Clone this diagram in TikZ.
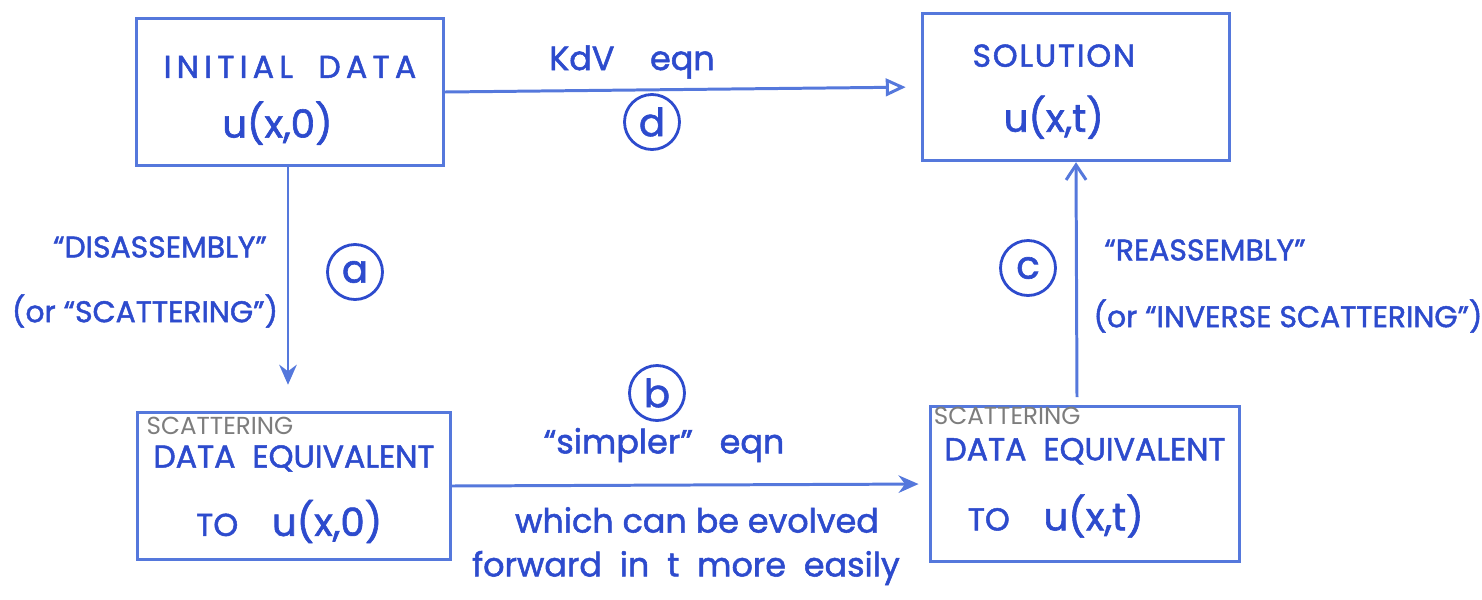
\documentclass[tikz,border=0pt]{standalone}
\usepackage{fontspec}
\usepackage{xcolor}
\usepackage{tikz}
\usetikzlibrary{arrows.meta,positioning,calc}
\newfontfamily\handfont[Ligatures=TeX,BoldFont=*,BoldFeatures={FakeBold=1.6}]{Poppins}
\newfontfamily\pencilfont[Ligatures=TeX]{Poppins}
\definecolor{ink}{RGB}{45,75,205}
\definecolor{penline}{RGB}{85,120,220}
\definecolor{pencil}{RGB}{125,125,125}
\newcommand{\tallstrut}[1]{\rule{0pt}{#1}}

\begin{document}
\begin{tikzpicture}[x=0.02cm,y=-0.02cm,
  box/.style={rectangle,draw=penline,line width=1.7pt,align=center,minimum width=6.15cm,minimum height=2.95cm,text=ink,font=\handfont\bfseries\fontsize{18}{22}\selectfont},
  pen/.style={text=pencil,font=\pencilfont\fontsize{14}{16}\selectfont,anchor=north west,inner sep=0pt},
  caps/.style={text=ink,font=\handfont\bfseries\fontsize{17}{20}\selectfont},
  lbl/.style={text=ink,font=\handfont\bfseries\fontsize{19}{23}\selectfont},
  circ/.style={circle,draw=ink,line width=1.6pt,minimum size=1.1cm,inner sep=0pt,text=ink,font=\handfont\bfseries\fontsize{22}{26}\selectfont},
  edge/.style={draw=penline,line width=1.7pt}]
\useasboundingbox (0,0) rectangle (1482,599);
% boxes
\node[box] (init) at (290,92) {\tallstrut{22pt}I\,N\,I\,T\,I\,A\,L\ \ \ D\,A\,T\,A\\[12pt]{\fontsize{22}{26}\selectfont u(x,0)\kern0.65em}};
\node[box] (sol) at (1076,87) {\tallstrut{18pt}S\kern1ptO\kern1ptL\kern1ptU\kern1ptT\kern1ptI\kern1ptO\kern1ptN\kern1.4em\\[15pt]{\fontsize{22}{26}\selectfont u(x,t)\kern1.15em}};
\node[box,minimum width=6.25cm] (scat0) at (294,486) {\tallstrut{22pt}DATA\ \ EQUIVALENT\\[15pt]TO\ \ \ \ {\fontsize{22}{26}\selectfont u(x,0)}\kern0.3em};
\node[box,minimum width=6.2cm,minimum height=3.1cm] (scatT) at (1085,484) {\tallstrut{17pt}DATA\ \ EQUIVALENT\\[16pt]TO\ \ \ \ {\fontsize{22}{26}\selectfont u(x,t)}\kern1.85em};
\node[pen] (pen0) at ($(scat0.north west)+(10,6)$) {SCATTERING};
\node[pen] (penT) at ($(scatT.north west)+(5,2)$) {SCATTERING};
% arrows
\draw[edge,-{Stealth[length=4mm,width=3.5mm]}] ($(init.south)+(-2,0)$) -- ($(scat0.north)+(-6,-26)$);
\draw[edge,-{Triangle[open,length=4mm,width=3.5mm]},shorten >=0.3cm] (init.east) -- (sol.west);
\draw[edge,-{Stealth[length=4mm,width=3.5mm]},shorten >=0.2cm] (scat0.east) -- (scatT.west);
\draw[edge,-{Straight Barb[length=3mm,width=4mm]}] ($(scatT.north)+(-8,-8)$) -- (sol.south);
% labels
\node[lbl] (kdv) at (632,62) {KdV\ \ \ \ eqn};
\node[circ] (cd) at (652,122) {d};
\node[circ] (ca) at (355,272) {a};
\node[circ] (cc) at (1028,268) {c};
\node[circ] (cb) at (657,393) {b};
\node[caps] (dis) at (160,247) {``DISASSEMBLY''};
\node[caps] (disor) at (145,311) {(or ``SCATTERING'')};
\node[caps] (re) at (1205,250) {``REASSEMBLY''};
\node[caps] (reor) at (1288,316) {(or ``INVERSE SCATTERING'')};
\node[lbl] (simp) at (664,445) {``simpler''\ \ \ eqn};
\node[lbl] (evo) at (697,520) {which\ can\ be\ evolved};
\node[lbl] (fwd) at (686,568) {forward\ \ in\ \ t\ \ more\ \ easily};
\end{tikzpicture}
\end{document}
